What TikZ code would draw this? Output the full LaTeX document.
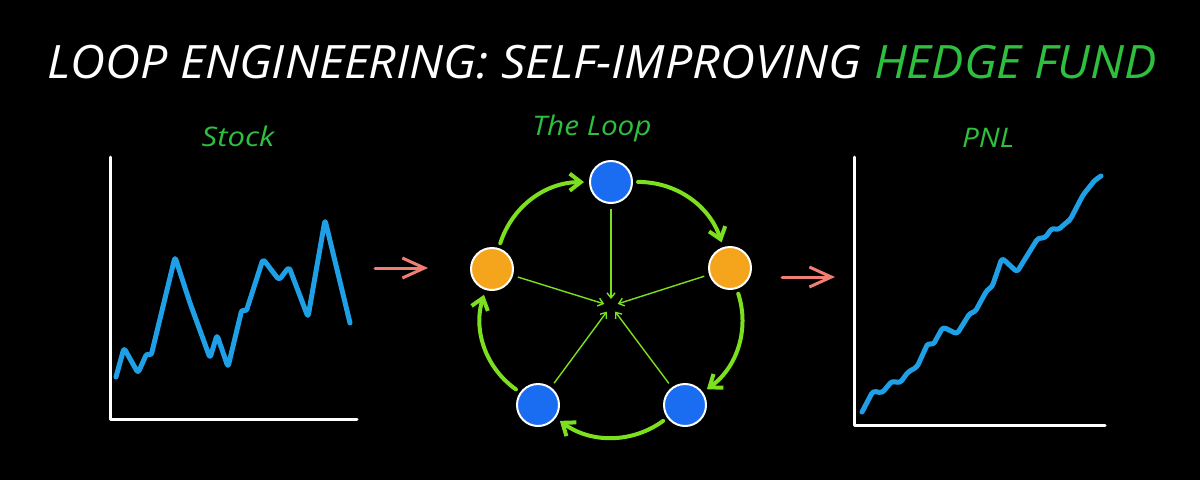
\documentclass[tikz,border=0pt]{standalone}
\usepackage{fontspec}
\setmainfont{Open Sans}
\usetikzlibrary{arrows.meta}
\definecolor{ttlgreen}{HTML}{2FBF3F}
\definecolor{lblue}{HTML}{1E9FE6}
\definecolor{nblue}{HTML}{1A6CF0}
\definecolor{norange}{HTML}{F5A51C}
\definecolor{lgreen}{HTML}{7DE01E}
\definecolor{salmon}{HTML}{F07E72}
\tikzset{
  ttl/.style={anchor=base, text=white, font=\fontsize{46}{50}\selectfont\itshape, inner sep=0pt},
  sub/.style={anchor=base, text=ttlgreen, font=\fontsize{27}{30}\selectfont\itshape, inner sep=0pt},
  axis/.style={draw=white, line width=3pt, line cap=round, line join=round},
  curve/.style={draw=lblue, line width=5pt, line cap=round, line join=round, rounded corners=3pt},
  loopnode/.style={circle, draw=white, line width=2pt, minimum size=42pt, inner sep=0pt},
  bnode/.style={loopnode, fill=nblue},
  onode/.style={loopnode, fill=norange},
  cyc/.style={draw=lgreen, line width=4pt, line cap=round, -{Straight Barb[length=11pt,width=17pt,line width=4pt]}, shorten <=5pt, shorten >=5pt},
  spoke/.style={draw=lgreen, line width=1.4pt, -{Straight Barb[length=5pt,width=8pt,line width=1.4pt]}, shorten <=5pt, shorten >=7pt},
  flow/.style={draw=salmon, line width=3pt, line cap=round, -{Straight Barb[length=22pt,width=20pt,line width=3pt]}}
}
\begin{document}
\begin{tikzpicture}[x=1pt,y=-1pt]
\fill[black] (0,0) rectangle (1200,480);
\useasboundingbox (0,0) rectangle (1200,480);

\node[ttl] (title) at (602,78) {\scalebox{1.05}[1]{LOOP ENGINEERING: SELF-IMPROVING \textcolor{ttlgreen}{HEDGE FUND}}};

% Stock chart
\node[sub] (lstock) at (238,146) {\scalebox{1.15}[1]{Stock}};
\draw[axis] (110,157) -- (110,419) -- (357,419);
\draw[curve] (116,377) -- (124,348) -- (138,373) -- (147,353) -- (151,356) -- (175,257) -- (190,303) -- (210,358) -- (217,335) -- (228,367) -- (242,309) -- (246,312) -- (263,259) -- (279,280) -- (289,267) -- (308,317) -- (325,220) -- (350,323);

% flow arrows
\coordinate (f1s) at (375,268);
\coordinate (f1e) at (428,268);
\draw[flow] (f1s) -- (f1e);
\coordinate (f2s) at (782,277);
\coordinate (f2e) at (835,277);
\draw[flow] (f2s) -- (f2e);

% Loop
\node[sub] (lloop) at (592,135) {\scalebox{1.1}[1]{The Loop}};
\node[bnode] (n1) at (611,182) {};
\node[onode] (n2) at (730,268) {};
\node[bnode] (n3) at (685,405) {};
\node[bnode] (n4) at (538,405) {};
\node[onode] (n5) at (492,269) {};
\coordinate (ctr) at (611,306);
\draw[cyc] (n1) to[bend left=36] (n2);
\draw[cyc] (n2) to[bend left=36] (n3);
\draw[cyc] (n3) to[bend left=36] (n4);
\draw[cyc] (n4) to[bend left=36] (n5);
\draw[cyc] (n5) to[bend left=36] (n1);
\foreach \n in {n1,n2,n3,n4,n5} \draw[spoke] (\n) -- (ctr);

% PNL chart
\node[sub] (lpnl) at (988,147) {\scalebox{1.1}[1]{PNL}};
\draw[axis] (854,157) -- (854,425) -- (1105,425);
\draw[curve] (862,412) -- (873,391) -- (882,393) -- (892,381) -- (900,383) -- (908,372) -- (917,367) -- (928,343) -- (933,345) -- (943,327) -- (957,334) -- (970,313) -- (975,312) -- (987,290) -- (992,287) -- (1002,258) -- (1017,272) -- (1038,238) -- (1045,238) -- (1052,228) -- (1058,230) -- (1067,222) -- (1070,220) -- (1083,195) -- (1095,180) -- (1101,176);
\end{tikzpicture}
\end{document}
